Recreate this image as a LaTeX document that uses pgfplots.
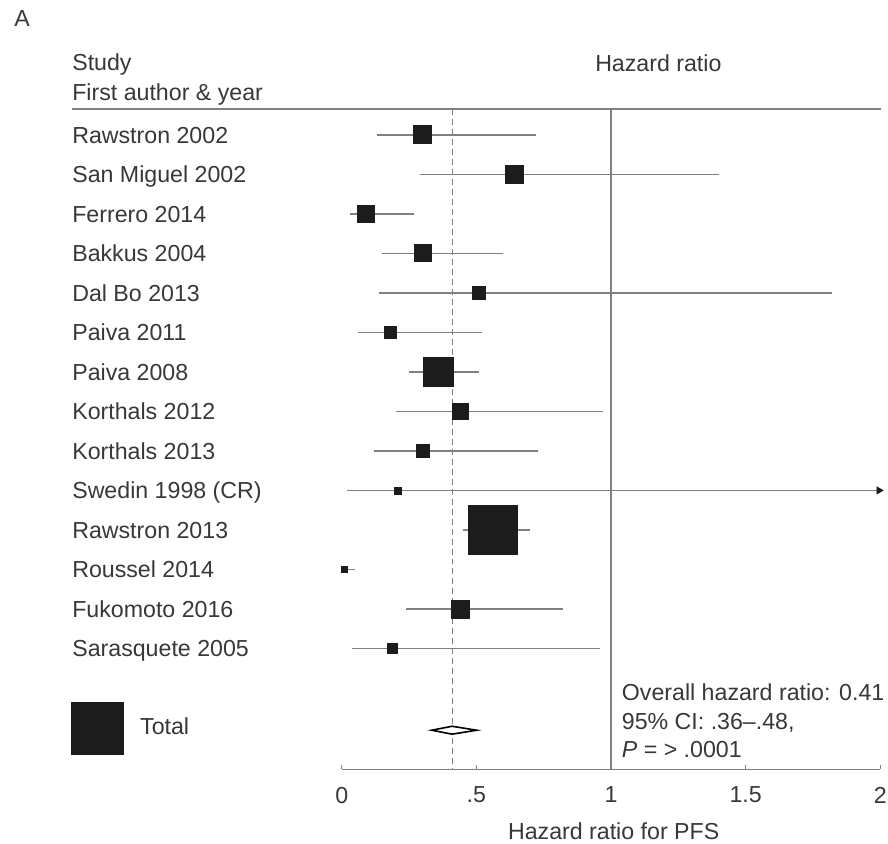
\documentclass[border=0pt]{standalone}
\usepackage{pgfplots}
\pgfplotsset{compat=1.18}
\usepackage{pgfplotstable}
\usepackage{fontspec}
\setmainfont{Liberation Sans}
\definecolor{txt}{HTML}{383838}
\definecolor{ln}{HTML}{808080}
\definecolor{sq}{HTML}{1C1C1C}
\tikzset{lbl/.style={anchor=base west, yshift=-4.1pt, text=txt, inner sep=0pt},
         clbl/.style={anchor=base, text=txt, inner sep=0pt}}

% y = -(row), hr, lower, upper, half side of square in pt
\pgfplotstableread{
y   hr   lo   hi   ms
-1  0.30 0.13 0.72 4.5
-2  0.64 0.29 1.40 4.5
-3  0.09 0.03 0.27 4.25
-4  0.30 0.15 0.60 4.25
-5  0.51 0.14 1.82 3.25
-6  0.18 0.06 0.52 3.0
-7  0.36 0.25 0.51 7.5
-8  0.44 0.20 0.97 4.0
-9  0.30 0.12 0.73 3.25
-10 0.21 0.02 2.00 1.75
-11 0.56 0.45 0.70 12.25
-12 0.01 0.00 0.05 1.5
-13 0.44 0.24 0.82 4.5
-14 0.19 0.04 0.96 2.5
}\studies

\begin{document}
\fontsize{11.6}{14}\selectfont
\begin{tikzpicture}
\begin{axis}[
  scale only axis, width=269.5pt, height=330.5pt,
  xmin=0, xmax=2, ymin=-17.06, ymax=-0.342,
  axis x line*=bottom, axis y line=none,
  x axis line style={ln, line width=0.75pt},
  xtick={0,0.5,1,1.5,2}, xticklabels={0,.5,1,1.5,2},
  tick style={ln, line width=0.6pt}, major tick length=2pt,
  ticklabel style={font=\fontsize{11.6}{14}\selectfont, text=txt, inner sep=0pt},
  xticklabel style={yshift=-8.6pt},
  /pgf/number format/assume math mode=true,
  clip=false,
]
% reference lines
\draw[ln, line width=0.8pt] (axis cs:-1.002,-0.342) -- (axis cs:2.003,-0.342);
\draw[ln, line width=0.6pt] (axis cs:1,-0.342) -- (axis cs:1,-17.06);
\draw[ln, line width=0.6pt, densely dashed] (axis cs:0.41,-0.342) -- (axis cs:0.41,-17.06);

% confidence intervals
\addplot[draw=none, mark=none, forget plot,
  error bars/.cd, x dir=both, x explicit, error mark=none,
  error bar style={draw=ln, line width=0.75pt, solid}]
  table[x=hr, y=y, x error plus expr=\thisrow{hi}-\thisrow{hr},
        x error minus expr=\thisrow{hr}-\thisrow{lo}] {\studies};

% arrow for truncated CI
\addplot[only marks, mark=triangle*, mark size=2pt, sq, mark options={rotate=-90}]
  coordinates {(1.995,-10)};

% study estimates
\addplot[scatter, only marks, mark=square*,
  scatter/use mapped color={draw=sq, fill=sq},
  mark options={rounded corners=0.8pt},
  visualization depends on={\thisrow{ms} \as \ms},
  scatter/@pre marker code/.append style={/tikz/mark size=\ms}]
  table[x=hr, y=y] {\studies};

% pooled diamond
\addplot[draw=black, fill=white, line width=0.8pt]
  coordinates {(0.334,-16.07) (0.41,-15.97) (0.501,-16.07) (0.41,-16.17)} -- cycle;

% legend square
\addplot[only marks, mark=square*, mark size=13pt, sq, mark options={rounded corners=0.5pt}]
  coordinates {(-0.907,-16.02)};

% texts
\node[lbl] at (axis cs:-1.217,1.959) {A};
\node[lbl] at (axis cs:-1.002,0.846) {Study};
\node[lbl] at (axis cs:-1.002,0.0875) {First author \& year};
\node[clbl, yshift=-4.1pt] at (axis cs:1.176,0.82) {Hazard ratio};

\node[lbl] at (axis cs:-1.002,-1) {Rawstron 2002};
\node[lbl] at (axis cs:-1.002,-2) {San Miguel 2002};
\node[lbl] at (axis cs:-1.002,-3) {Ferrero 2014};
\node[lbl] at (axis cs:-1.002,-4) {Bakkus 2004};
\node[lbl] at (axis cs:-1.002,-5) {Dal Bo 2013};
\node[lbl] at (axis cs:-1.002,-6) {Paiva 2011};
\node[lbl] at (axis cs:-1.002,-7) {Paiva 2008};
\node[lbl] at (axis cs:-1.002,-8) {Korthals 2012};
\node[lbl] at (axis cs:-1.002,-9) {Korthals 2013};
\node[lbl] at (axis cs:-1.002,-10) {Swedin 1998 (CR)};
\node[lbl] at (axis cs:-1.002,-11) {Rawstron 2013};
\node[lbl] at (axis cs:-1.002,-12) {Roussel 2014};
\node[lbl] at (axis cs:-1.002,-13) {Fukomoto 2016};
\node[lbl] at (axis cs:-1.002,-14) {Sarasquete 2005};
\node[lbl] at (axis cs:-0.75,-15.97) {Total};

\node[lbl] at (axis cs:1.039,-15.11) {Overall hazard ratio: 0.41};
\node[lbl] at (axis cs:1.039,-15.85) {95\% CI: .36--.48,};
\node[lbl] at (axis cs:1.039,-16.55) {\textit{P} = > .0001};

\node[clbl, yshift=-35.1pt] at (axis cs:1.01,-17.06) {Hazard ratio for PFS};

\coordinate (bl) at (axis cs:-1.269,-18.93);
\coordinate (tr) at (axis cs:2.026,2.414);
\end{axis}
\path (bl) rectangle (tr);
\end{tikzpicture}
\end{document}
